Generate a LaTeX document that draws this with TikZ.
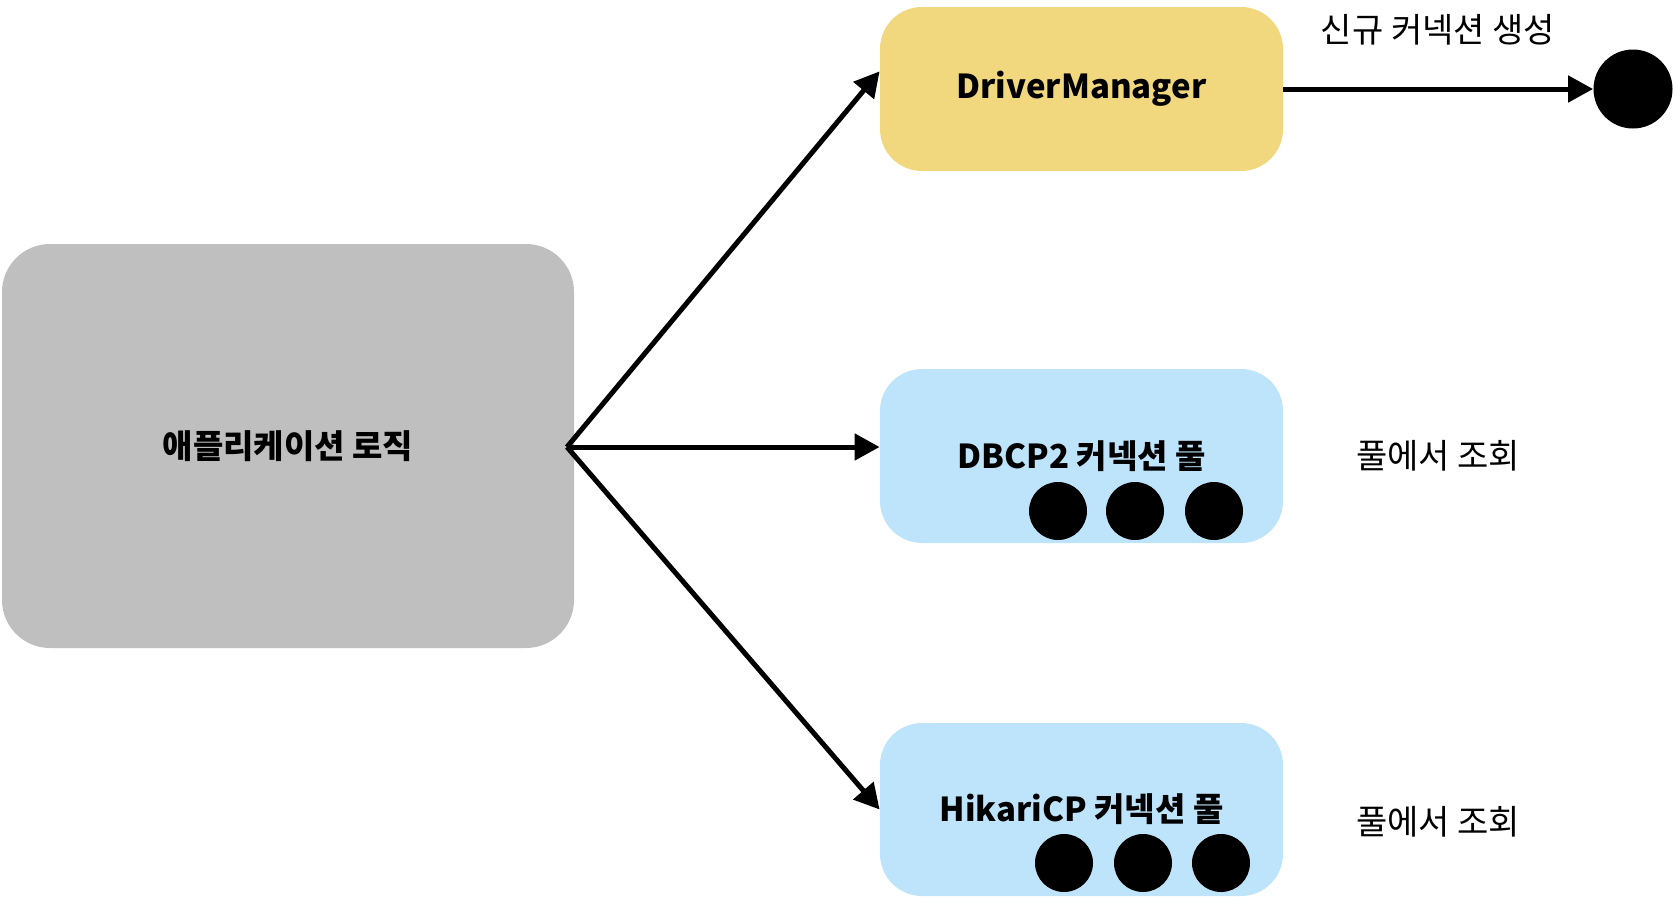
\documentclass[tikz,border=0pt]{standalone}
\usepackage{fontspec}
\setmainfont{Noto Sans CJK KR}
\usepackage{tikz}
\usetikzlibrary{positioning}
\usetikzlibrary{arrows.meta}

\definecolor{appgray}{HTML}{BFBFBF}
\definecolor{dmyellow}{HTML}{F1D87F}
\definecolor{poolblue}{HTML}{BDE4FB}

\begin{document}
\begin{tikzpicture}[x=0.5pt, y=-0.5pt,
    box/.style={rounded corners=21pt, inner sep=0pt, font=\fontsize{16.5}{20}\selectfont\bfseries},
    conn/.style={circle, fill=black, minimum size=29pt, inner sep=0pt},
    note/.style={font=\fontsize{17}{20}\selectfont},
    link/.style={line width=2.5pt, -{Triangle[length=12.5pt, width=13pt]}}]
                \useasboundingbox (0,0) rectangle (1676,900);
                % boxes
                \node[box, fill=appgray, rounded corners=24pt, minimum width=286pt, minimum height=202pt] (app) at (288,446) {애플리케이션 로직};
                \node[box, fill=dmyellow, minimum width=201.5pt, minimum height=82pt] (dm) at (1081.5,89) {DriverManager};
                \node[box, fill=poolblue, minimum width=201.5pt, minimum height=87pt] (dbcp) at (1081.5,456) {DBCP2 커넥션 풀};
                \node[box, fill=poolblue, minimum width=201.5pt, minimum height=86.5pt] (hikari) at (1081.5,809.5) {HikariCP 커넥션 풀};
                % connections
                \node[conn] (dbcp1) at (1058,511) {};
                \node[conn] (dbcp2) at (1135,511) {};
                \node[conn] (dbcp3) at (1214,511) {};
                \node[conn] (hik1) at (1064,863) {};
                \node[conn] (hik2) at (1143,863) {};
                \node[conn] (hik3) at (1221,863) {};
                \node[conn, minimum size=39.5pt] (newconn) at (1633,89) {};
                % labels
                \node[note] (newlbl) at (1438,30) {신규 커넥션 생성};
                \node[note] (dbcplbl) at (1438,456) {풀에서 조회};
                \node[note] (hiklbl) at (1438,822) {풀에서 조회};
                % arrows
                \coordinate (src) at (567,447);
                \draw[link] (src) -- (dm.175);
                \draw[link] (src) -- (dbcp.west |- src);
                \draw[link] (src) -- (hikari.west);
                \draw[link] (dm.east) -- (newconn);
            \end{tikzpicture}
\end{document}
